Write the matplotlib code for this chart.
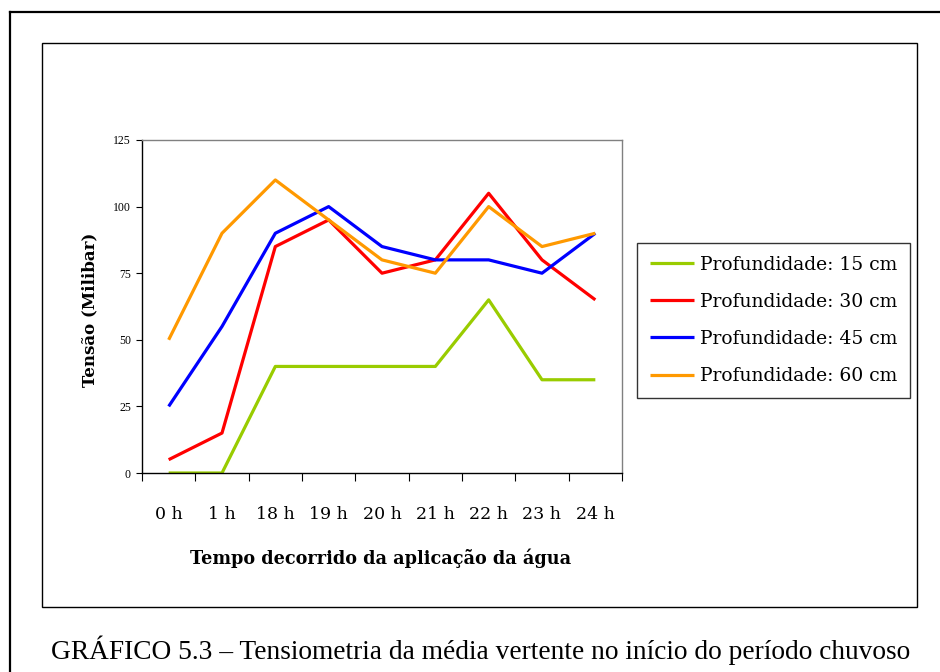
import matplotlib
matplotlib.use("Agg")
import matplotlib.pyplot as plt
from matplotlib.lines import Line2D
from matplotlib.patches import Rectangle

categories = ["0 h", "1 h", "18 h", "19 h", "20 h", "21 h", "22 h", "23 h", "24 h"]
prof_15 = [0, 0, 40, 40, 40, 40, 65, 35, 35]
prof_30 = [5, 15, 85, 95, 75, 80, 105, 80, 65]
prof_45 = [25, 55, 90, 100, 85, 80, 80, 75, 90]
prof_60 = [50, 90, 110, 95, 80, 75, 100, 85, 90]
series_labels = ["Profundidade: 15 cm", "Profundidade: 30 cm",
                 "Profundidade: 45 cm", "Profundidade: 60 cm"]
y_ticks = [0, 25, 50, 75, 100, 125]

colors = ["#99CC00", "#FF0000", "#0000FF", "#FF9900"]
serif = "DejaVu Serif"
serif2 = "Liberation Serif"

W, H = 940, 672
fig = plt.figure(figsize=(W / 100, H / 100), dpi=100)

def fx(x):
    return x / W

def fy(y):
    return 1 - y / H

# outer frame (top and left only visible)
fig.add_artist(Line2D([fx(10), fx(940)], [fy(12), fy(12)], color="black", lw=1.6))
fig.add_artist(Line2D([fx(10), fx(10)], [fy(12), fy(672)], color="black", lw=1.6))
# inner chart box
fig.add_artist(Rectangle((fx(42), fy(607)), fx(917) - fx(42), fy(43) - fy(607),
                         fill=False, edgecolor="black", lw=1.0))

ax = fig.add_axes([fx(142), fy(473), fx(622) - fx(142), fy(140) - fy(473)])
x = list(range(len(categories)))
for vals, c, lab in zip([prof_15, prof_30, prof_45, prof_60], colors, series_labels):
    ax.plot(x, vals, color=c, lw=2.3, label=lab, solid_capstyle="butt")

ax.set_xlim(-0.5, len(categories) - 0.5)
ax.set_ylim(0, 125)
ax.set_yticks(y_ticks)
ax.set_yticklabels([str(v) for v in y_ticks], fontfamily=serif2, fontsize=8.5)
ax.tick_params(axis="y", direction="out", length=4, width=0.8, pad=4)

ax.set_xticks([i - 0.5 for i in range(len(categories) + 1)])
ax.set_xticklabels([])
ax.set_xticks(x, minor=True)
ax.set_xticklabels(categories, minor=True, fontfamily=serif, fontsize=12.5)
ax.tick_params(axis="x", which="major", direction="out", length=6, width=0.8)
ax.tick_params(axis="x", which="minor", length=0, pad=24)

for s in ["top", "right"]:
    ax.spines[s].set_color("#808080")
    ax.spines[s].set_linewidth(1.0)
for s in ["left", "bottom"]:
    ax.spines[s].set_color("black")
    ax.spines[s].set_linewidth(1.0)

fig.text(fx(381), fy(558), "Tempo decorrido da aplicação da água", ha="center", va="center",
         fontfamily=serif, fontweight="bold", fontsize=12.7)
fig.text(fx(90), fy(310), "Tensão (Milibar)", ha="center", va="center", rotation=90,
         fontfamily=serif, fontweight="bold", fontsize=12)

leg = ax.legend(loc="upper left", bbox_to_anchor=(fx(637), fy(243)),
                bbox_transform=fig.transFigure, frameon=True, fancybox=False,
                prop={"family": serif, "size": 13.5}, handlelength=2.37,
                handletextpad=0.3, labelspacing=1.02, borderpad=0.68, borderaxespad=0)
leg.get_frame().set_edgecolor("black")
leg.get_frame().set_linewidth(1.0)

fig.text(fx(481), fy(650), "GRÁFICO 5.3 – Tensiometria da média vertente no início do período chuvoso",
         ha="center", va="center", fontfamily=serif2, fontsize=19.7)

fig.savefig("out.png", dpi=100)
